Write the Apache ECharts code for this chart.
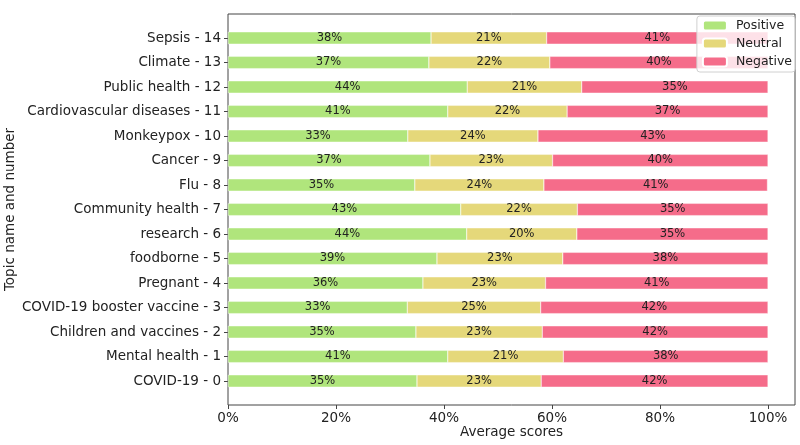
<!DOCTYPE html>
<html>
<head>
    <meta charset="UTF-8">
    <script src="https://cdn.jsdelivr.net/npm/echarts@6/dist/echarts.min.js"></script>
    <style>
    html, body { margin: 0; padding: 0; background: #fff; }
    #chart { width: 800px; height: 445px; }
    </style>
</head>
<body>
    <div id="chart"></div>
    <script>
    // topics, bottom to top
    var topics = ['COVID-19 - 0', 'Mental health - 1', 'Children and vaccines - 2', 'COVID-19 booster vaccine - 3',
        'Pregnant - 4', 'foodborne - 5', 'research - 6', 'Community health - 7', 'Flu - 8', 'Cancer - 9',
        'Monkeypox - 10', 'Cardiovascular diseases - 11', 'Public health - 12', 'Climate - 13', 'Sepsis - 14'];
    var positive = [35.0, 40.7, 34.8, 33.2, 36.1, 38.7, 44.2, 43.1, 34.6, 37.4, 33.3, 40.7, 44.3, 37.2, 37.6];
    var neutral  = [23.0, 21.4, 23.4, 24.7, 22.7, 23.3, 20.4, 21.6, 23.9, 22.7, 24.1, 22.1, 21.2, 22.4, 21.4];
    var negative = [42.0, 37.9, 41.8, 42.1, 41.2, 38.0, 35.4, 35.3, 41.4, 39.9, 42.6, 37.2, 34.5, 40.4, 41.0];
    var xTicks = [0, 20, 40, 60, 80, 100];

    var font = 'DejaVu Sans';
    var frameTop = 14, frameBottom = 40;   // 445 - 405
    var half = 11.75;                      // gap between frame and first/last band

    function makeSeries(name, data, color) {
        return {
            name: name,
            type: 'bar',
            stack: 'all',
            xAxisIndex: 0,
            yAxisIndex: 0,
            barWidth: '50%',
            data: data,
            itemStyle: { color: color, borderColor: '#fff', borderWidth: 0.4 },
            label: {
                show: true,
                position: 'inside',
                color: '#222',
                fontFamily: font,
                fontSize: 11.5,
                formatter: function(p) { return Math.round(p.value) + '%'; }
            }
        };
    }

    var option = {
        animation: false,
        textStyle: { fontFamily: font },
        legend: {
            orient: 'vertical',
            right: 5,
            top: 16,
            itemWidth: 24,
            itemHeight: 10,
            itemGap: 5,
            padding: [3, 3, 4, 5],
            backgroundColor: 'rgba(255,255,255,0.8)',
            borderColor: '#d0d0d0',
            borderWidth: 1,
            borderRadius: 3,
            textStyle: { fontFamily: font, fontSize: 12.5, color: '#222', padding: [0, 0, 0, 4] },
            data: ['Positive', 'Neutral', 'Negative']
        },
        grid: [
            // bars
            { left: 228, right: 5, top: frameTop + half, bottom: frameBottom + half, outerBoundsMode: 'none' },
            // frame
            { left: 228, right: 5, top: frameTop, bottom: frameBottom, show: true, outerBoundsMode: 'none',
              borderColor: '#444', borderWidth: 1, backgroundColor: 'transparent' }
        ],
        xAxis: [
            { type: 'value', gridIndex: 0, min: 0, max: 105, show: false },
            {
                type: 'value', gridIndex: 1, min: 0, max: 105, interval: 20,
                name: 'Average scores',
                nameLocation: 'middle',
                nameGap: 20,
                nameMoveOverlap: false,
                nameTextStyle: { fontFamily: font, fontSize: 13.5, color: '#222' },
                axisLine: { show: false },
                axisTick: { show: true, length: 4, customValues: xTicks, lineStyle: { color: '#444' } },
                splitLine: { show: false },
                axisLabel: {
                    fontFamily: font, fontSize: 13.5, color: '#222', margin: 6,
                    customValues: xTicks,
                    formatter: function(v) { return xTicks.indexOf(v) >= 0 ? v + '%' : ''; }
                }
            }
        ],
        yAxis: [
            {
                type: 'category', gridIndex: 0, data: topics,
                name: 'Topic name and number',
                nameLocation: 'middle',
                nameGap: 211,
                nameMoveOverlap: false,
                nameTextStyle: { fontFamily: font, fontSize: 13.5, color: '#222' },
                axisLine: { show: false },
                axisTick: { show: true, alignWithLabel: true, length: 4, lineStyle: { color: '#444' } },
                axisLabel: { fontFamily: font, fontSize: 13.5, color: '#222', margin: 7 }
            },
            { type: 'value', gridIndex: 1, show: false, min: 0, max: 1 }
        ],
        series: [
            makeSeries('Positive', positive, '#b0e57c'),
            makeSeries('Neutral', neutral, '#e5d87a'),
            makeSeries('Negative', negative, '#f56c8a')
        ]
    };

    var myChart = echarts.init(document.getElementById('chart'));
    myChart.setOption(option);
    </script>
</body>
</html>
